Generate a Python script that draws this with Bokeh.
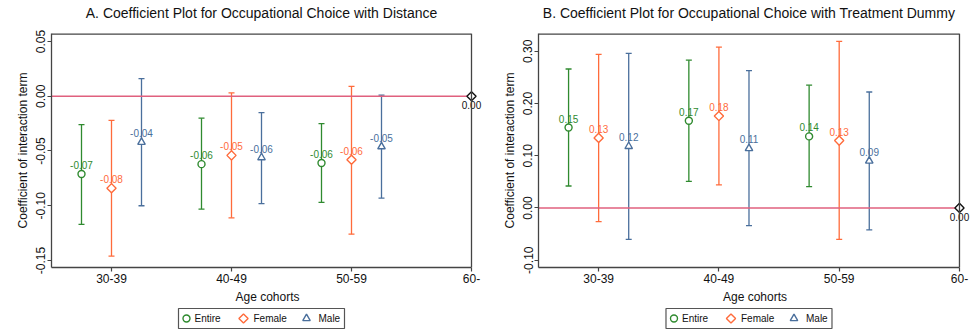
import math
from bokeh.plotting import figure
from bokeh.models import (ColumnDataSource, Whisker, TeeHead, FixedTicker,
                          Range1d, Span)
from bokeh.layouts import row, column
from bokeh.embed import file_html
from bokeh.resources import INLINE
from bokeh.core.properties import value

# ---------------- data ----------------
cohorts = ["30-39", "40-49", "50-59", "60-"]
series = ["Entire", "Female", "Male"]

a_entire = [-0.071, -0.062, -0.061]
a_entire_lo = [-0.117, -0.103, -0.097]
a_entire_hi = [-0.026, -0.020, -0.025]
a_female = [-0.084, -0.054, -0.058]
a_female_lo = [-0.146, -0.111, -0.126]
a_female_hi = [-0.022, 0.003, 0.009]
a_male = [-0.042, -0.056, -0.046]
a_male_lo = [-0.100, -0.098, -0.093]
a_male_hi = [0.016, -0.015, 0.001]

b_entire = [0.154, 0.167, 0.137]
b_entire_lo = [0.042, 0.051, 0.041]
b_entire_hi = [0.266, 0.283, 0.235]
b_female = [0.134, 0.176, 0.129]
b_female_lo = [-0.026, 0.044, -0.060]
b_female_hi = [0.294, 0.308, 0.319]
b_male = [0.118, 0.114, 0.090]
b_male_lo = [-0.060, -0.034, -0.042]
b_male_hi = [0.296, 0.263, 0.222]

ref_value = 0.0  # reference cohort 60-

a_yticks = [-0.15, -0.10, -0.05, 0.0, 0.05]
b_yticks = [-0.10, 0.0, 0.10, 0.20, 0.30]

FONT = "Liberation Sans"
colors = {"Entire": "#2f8a2f", "Female": "#ff6b3b", "Male": "#4a6f9c"}
markers = {"Entire": ("circle", 7, 0.0), "Female": ("square", 6.5, math.pi / 4),
           "Male": ("triangle", 7.5, 0.0)}
offsets = {"Entire": -0.25, "Female": 0.0, "Male": 0.25}
AXC = "#444444"


def strip_fig(h, frame_w, left_border, right_border):
    # x data units = pixels of the whole figure, whatever frame alignment is used
    f = figure(output_backend="svg", toolbar_location=None,
               frame_width=frame_w, frame_height=h,
               x_range=Range1d(left_border, left_border + frame_w),
               y_range=Range1d(0, h),
               x_axis_type=None, y_axis_type=None,
               min_border_left=left_border, min_border_right=right_border,
               min_border_top=0, min_border_bottom=0)
    f.outline_line_color = None
    f.xgrid.visible = False
    f.ygrid.visible = False
    f.background_fill_color = "white"
    f.border_fill_color = "white"
    return f


def make_panel(title, data, yr, yticks, frame_w, left_border, right_border):
    x_start, x_box_end, x_end = 0.5, float(len(cohorts)), len(cohorts) + 0.1
    box_cx = left_border + frame_w * (x_box_end - x_start) / (x_end - x_start) / 2

    # ---- title strip ----
    t = strip_fig(24, frame_w, left_border, right_border)
    t.text(x=[box_cx], y=[12], text=[title], text_align="center",
           text_baseline="middle", text_color="#111111",
           text_font=value(FONT), text_font_size="14px")

    # ---- main plot ----
    p = figure(output_backend="svg", toolbar_location=None,
               frame_width=frame_w, frame_height=234,
               x_range=Range1d(x_start, x_end), y_range=Range1d(*yr),
               min_border_left=left_border, min_border_right=right_border,
               min_border_top=9, min_border_bottom=0)
    p.background_fill_color = "white"
    p.border_fill_color = "white"
    p.outline_line_color = None
    p.xgrid.visible = False
    p.ygrid.visible = False

    xpos = list(range(1, len(cohorts) + 1))
    p.xaxis.ticker = FixedTicker(ticks=xpos)
    p.xaxis.major_label_overrides = {i: c for i, c in zip(xpos, cohorts)}
    p.xaxis.bounds = (x_start, x_box_end)
    p.yaxis.ticker = FixedTicker(ticks=yticks)
    p.yaxis.major_label_overrides = {v: "%.2f" % v for v in yticks}
    p.yaxis.major_label_orientation = "vertical"
    p.xaxis.axis_label = "Age cohorts"
    p.yaxis.axis_label = "Coefficient of interaction term"
    for ax in (p.xaxis, p.yaxis):
        ax.axis_label_text_font = FONT
        ax.axis_label_text_font_size = "12px"
        ax.axis_label_text_font_style = "normal"
        ax.axis_label_text_color = "#111111"
        ax.major_label_text_font = FONT
        ax.major_label_text_font_size = "12px"
        ax.major_label_text_color = "#111111"
        ax.axis_line_color = AXC
        ax.axis_line_width = 1.3
        ax.major_tick_line_color = AXC
        ax.major_tick_line_width = 1.2
        ax.major_tick_out = 4
        ax.major_tick_in = 0
        ax.minor_tick_line_color = None
        ax.major_label_standoff = 2
        ax.axis_label_standoff = 4

    # top and right edges of the plot region box (box ends at last cohort)
    p.segment(x0=[x_start], x1=[x_box_end], y0=[yr[1]], y1=[yr[1]],
              line_color=AXC, line_width=2.6)
    p.add_layout(Span(location=x_box_end, dimension="height",
                      line_color=AXC, line_width=1.3))

    # zero reference line up to the reference cohort
    p.segment(x0=[x_start], x1=[x_box_end], y0=[ref_value], y1=[ref_value],
              line_color="#e0607e", line_width=1.6)

    for name, (vals, lo, hi) in data.items():
        c = colors[name]
        mk, sz, ang = markers[name]
        xs = [i + offsets[name] for i in range(1, len(vals) + 1)]
        src = ColumnDataSource(dict(x=xs, y=vals, lo=lo, hi=hi,
                                    lab=["%.2f" % v for v in vals]))
        w = Whisker(base="x", lower="lo", upper="hi", source=src,
                    line_color=c, line_width=1.3,
                    lower_head=TeeHead(size=6, line_color=c, line_width=1.3),
                    upper_head=TeeHead(size=6, line_color=c, line_width=1.3))
        p.add_layout(w)
        p.scatter("x", "y", source=src, marker=mk, size=sz, angle=ang,
                  fill_color="white", line_color=c, line_width=1.4)
        p.text("x", "y", text="lab", source=src, text_align="center",
               text_baseline="bottom", y_offset=-5, text_color=c,
               text_font=value(FONT), text_font_size="10px")

    # reference cohort
    ref_src = ColumnDataSource(dict(x=[len(cohorts)], y=[ref_value],
                                    lab=["%.2f" % ref_value]))
    p.scatter("x", "y", source=ref_src, marker="square", size=6.5,
              angle=math.pi / 4, fill_color="white", line_color="#111111",
              line_width=1.4)
    p.text("x", "y", text="lab", source=ref_src, text_align="center",
           text_baseline="top", y_offset=5, text_color="#111111",
           text_font=value(FONT), text_font_size="10px")

    # ---- legend strip ----
    lg = strip_fig(28, frame_w, left_border, right_border)
    box_w = 166
    bl = box_cx - box_w / 2
    lg.quad(left=[bl], right=[bl + box_w], bottom=[6], top=[26],
            fill_color="white", line_color="#555555", line_width=1.2)
    dx_marker = [8, 65, 128]
    dx_text = [16, 75, 140]
    for name, dm, dt in zip(series, dx_marker, dx_text):
        mk, sz, ang = markers[name]
        lg.scatter(x=[bl + dm], y=[16], marker=mk, size=sz, angle=ang,
                   fill_color="white", line_color=colors[name], line_width=1.4)
        lg.text(x=[bl + dt], y=[16], text=[name], text_align="left",
                text_baseline="middle", text_color="#111111",
                text_font=value(FONT), text_font_size="10px")

    return column(t, p, lg, spacing=0)


pA = make_panel("A. Coefficient Plot for Occupational Choice with Distance",
                {"Entire": (a_entire, a_entire_lo, a_entire_hi),
                 "Female": (a_female, a_female_lo, a_female_hi),
                 "Male": (a_male, a_male_lo, a_male_hi)},
                (-0.1564, 0.0573), a_yticks, 432, 51, 3)
pB = make_panel("B. Coefficient Plot for Occupational Choice with Treatment Dummy",
                {"Entire": (b_entire, b_entire_lo, b_entire_hi),
                 "Female": (b_female, b_female_lo, b_female_hi),
                 "Male": (b_male, b_male_lo, b_male_hi)},
                (-0.114, 0.334), b_yticks, 433, 52, 2)

layout = row(pA, pB, spacing=0)
open("out.html", "w").write(file_html(layout, INLINE))
